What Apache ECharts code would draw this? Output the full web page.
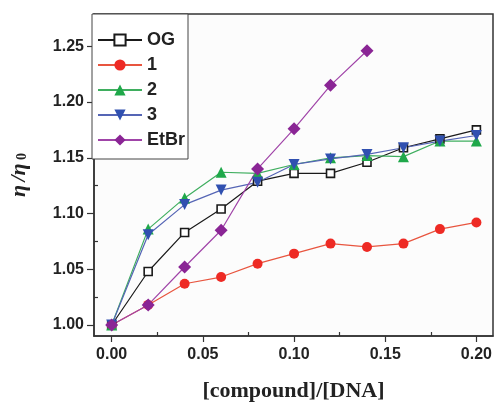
<!DOCTYPE html>
<html><head><meta charset="utf-8">
<script src="https://cdn.jsdelivr.net/npm/echarts@6/dist/echarts.min.js"></script>
<style>html,body{margin:0;padding:0;background:#fff}#c{width:496px;height:407px}</style>
</head><body><div id="c"></div>
<script>
var xVals = [0, 0.02, 0.04, 0.06, 0.08, 0.10, 0.12, 0.14, 0.16, 0.18, 0.20];
var ogVals = [1.000, 1.048, 1.083, 1.104, 1.129, 1.136, 1.136, 1.146, 1.159, 1.167, 1.175];
var c1Vals = [1.000, 1.018, 1.037, 1.043, 1.055, 1.064, 1.073, 1.070, 1.073, 1.086, 1.092];
var c2Vals = [1.000, 1.086, 1.114, 1.137, 1.136, 1.144, 1.150, 1.152, 1.151, 1.165, 1.165];
var c3Vals = [1.000, 1.081, 1.108, 1.121, 1.128, 1.144, 1.149, 1.153, 1.159, 1.165, 1.170];
var etbrVals = [1.000, 1.018, 1.052, 1.085, 1.140, 1.176, 1.215, 1.246];
var xTicks = [0, 0.05, 0.10, 0.15, 0.20];
var xMinor = [0.025, 0.075, 0.125, 0.175];
var yTicks = [1.00, 1.05, 1.10, 1.15, 1.20, 1.25];
var yMinor = [1.025, 1.075, 1.125, 1.175, 1.225, 1.275];
var names = ['OG', '1', '2', '3', 'EtBr'];

function pairs(vals) { return vals.map(function (v, i) { return [xVals[i], v]; }); }

var chart = echarts.init(document.getElementById('c'), null, {renderer: 'canvas'});
var axisCol = '#333';
var lblStyle = {color: '#222', fontFamily: 'Liberation Sans, Arial', fontWeight: 'bold', fontSize: 16};
var X0 = -0.0097, X1 = 0.2091, Y0 = 0.9901, Y1 = 1.279;
chart.setOption({
  animation: false,
  grid: {left: 86, right: 3, top: 14, bottom: 58, show: true, borderColor: axisCol, borderWidth: 1.5, backgroundColor: '#fcfcfc'},
  legend: {
    orient: 'vertical', left: 92, top: 14,
    padding: [17, 3, 10, 5],
    borderColor: '#444', borderWidth: 1,
    backgroundColor: '#fff',
    itemWidth: 44, itemHeight: 14, itemGap: 7,
    data: names,
    textStyle: {color: '#222', fontFamily: 'Liberation Sans, Arial', fontWeight: 'bold', fontSize: 18, lineHeight: 17}
  },
  xAxis: [{
    type: 'value', min: X0, max: X1,
    name: '[compound]/[DNA]', nameLocation: 'middle', nameGap: 44,
    nameTextStyle: {color: '#222', fontFamily: 'Liberation Serif, Times New Roman', fontWeight: 'bold', fontSize: 22},
    axisLine: {show: true, onZero: false, lineStyle: {color: axisCol, width: 1.5}},
    axisTick: {show: true, inside: false, length: 6, customValues: xTicks, lineStyle: {color: axisCol, width: 1.2}},
    axisLabel: Object.assign({margin: 11, customValues: xTicks, formatter: function (v) { return v.toFixed(2); }}, lblStyle),
    splitLine: {show: false}
  }, {
    type: 'value', min: X0, max: X1, position: 'bottom',
    axisLine: {show: false, onZero: false}, axisLabel: {show: false}, splitLine: {show: false},
    axisTick: {show: true, inside: true, length: 4, customValues: xMinor, lineStyle: {color: axisCol, width: 1.2}}
  }],
  yAxis: [{
    type: 'value', min: Y0, max: Y1,
    name: '{e|η} {e|/η} {s|0}', nameLocation: 'middle', nameGap: 64, nameRotate: 90,
    nameTextStyle: {
      rich: {
        e: {fontFamily: 'Liberation Serif, Times New Roman', fontStyle: 'italic', fontWeight: 'bold', fontSize: 22, color: '#222'},
        s: {fontFamily: 'Liberation Serif, Times New Roman', fontWeight: 'bold', fontSize: 14, color: '#222', padding: [6, 0, 0, 0]}
      }
    },
    axisLine: {show: true, onZero: false, lineStyle: {color: axisCol, width: 1.5}},
    axisTick: {show: true, inside: false, length: 7, customValues: yTicks, lineStyle: {color: axisCol, width: 1.2}},
    axisLabel: Object.assign({margin: 10, customValues: yTicks, formatter: function (v) { return v.toFixed(2); }}, lblStyle),
    splitLine: {show: false}
  }, {
    type: 'value', min: Y0, max: Y1, position: 'left',
    axisLine: {show: false, onZero: false}, axisLabel: {show: false}, splitLine: {show: false},
    axisTick: {show: true, inside: true, length: 4, customValues: yMinor, lineStyle: {color: axisCol, width: 1.2}}
  }],
  series: [
    {name: 'OG', type: 'line', data: pairs(ogVals), symbol: 'rect', symbolSize: 8,
     lineStyle: {color: '#1a1a1a', width: 1.2}, itemStyle: {color: '#fff', borderColor: '#1a1a1a', borderWidth: 1.6}},
    {name: '1', type: 'line', data: pairs(c1Vals), symbol: 'circle', symbolSize: 10,
     lineStyle: {color: '#e8553f', width: 1.2}, itemStyle: {color: '#ee2a24'}},
    {name: '2', type: 'line', data: pairs(c2Vals), symbol: 'triangle', symbolSize: 11,
     lineStyle: {color: '#3fae5f', width: 1.2}, itemStyle: {color: '#1fa84a'}},
    {name: '3', type: 'line', data: pairs(c3Vals), symbol: 'triangle', symbolRotate: 180, symbolSize: 11,
     lineStyle: {color: '#5565b5', width: 1.2}, itemStyle: {color: '#3050b0'}},
    {name: 'EtBr', type: 'line', data: pairs(etbrVals), symbol: 'diamond', symbolSize: 13,
     lineStyle: {color: '#a044a8', width: 1.2}, itemStyle: {color: '#8a2595'}}
  ]
});
</script>
</body></html>
